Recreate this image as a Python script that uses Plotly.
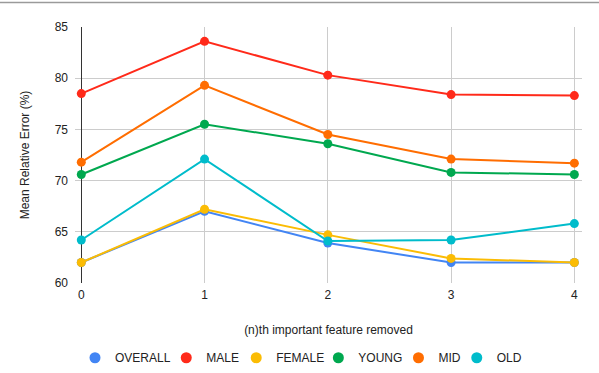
import plotly.graph_objects as go

# n-th important feature removed
features_removed = [0, 1, 2, 3, 4]

# Mean relative error (%) per group
overall = [62.0, 67.0, 63.9, 62.0, 62.0]
male = [78.5, 83.6, 80.3, 78.4, 78.3]
female = [62.0, 67.2, 64.7, 62.4, 62.0]
young = [70.6, 75.5, 73.6, 70.8, 70.6]
mid = [71.8, 79.3, 74.5, 72.1, 71.7]
old = [64.2, 72.1, 64.1, 64.2, 65.8]

group_names = ["OVERALL", "MALE", "FEMALE", "YOUNG", "MID", "OLD"]
group_values = [overall, male, female, young, mid, old]
colors = ["#4285F4", "#FF2A1A", "#FBBC04", "#00A84F", "#FF6D01", "#00BCCB"]

# left edge of each legend entry (paper fraction), so entries sit like the original
legend_x = [0.000, 0.180, 0.318, 0.480, 0.638, 0.753]

fig = go.Figure()

for name, vals, col in zip(group_names, group_values, colors):
    fig.add_trace(go.Scatter(
        x=features_removed, y=vals, name=name, mode="lines+markers",
        line=dict(color=col, width=2),
        marker=dict(color=col, size=9),
        showlegend=False,
    ))

# legend entries as plain dots, one small legend each
legend_layouts = {}
for i, (name, col) in enumerate(zip(group_names, colors)):
    key = "legend" if i == 0 else f"legend{i + 1}"
    fig.add_trace(go.Scatter(
        x=[None], y=[None], name=name, mode="markers",
        marker=dict(color=col, size=11), legend=key,
    ))
    legend_layouts[key] = dict(
        x=legend_x[i], xanchor="left", y=-0.292, yanchor="middle",
        font=dict(size=12, color="#222222"),
        itemwidth=30, bgcolor="rgba(0,0,0,0)",
    )

fig.update_layout(
    width=599, height=373,
    margin=dict(l=75, r=17, t=27, b=90, autoexpand=False),
    paper_bgcolor="white",
    plot_bgcolor="white",
    font=dict(family="Liberation Sans, Arial, sans-serif", size=12, color="#222222"),
    **legend_layouts,
    # light gray strip at the very top of the screenshot
    shapes=[dict(type="line", xref="paper", yref="paper",
                 x0=-0.148, x1=1.034, y0=1.096, y1=1.096,
                 line=dict(color="#9a9a9a", width=1.5))],
)

fig.update_xaxes(
    range=[-0.051, 4.062],
    tickvals=features_removed,
    showgrid=True, gridcolor="#cccccc", gridwidth=1,
    zeroline=True, zerolinecolor="#333333", zerolinewidth=1,
    showline=False, ticks="", automargin=False,
    ticklabelstandoff=3,
    title=dict(text="(n)th important feature removed", standoff=24,
               font=dict(size=12)),
)
fig.update_yaxes(
    range=[60, 85],
    tickvals=[60, 65, 70, 75, 80, 85],
    showgrid=True, gridcolor="#cccccc", gridwidth=1,
    zeroline=False, showline=False, ticks="", automargin=False,
    ticklabelstandoff=6,
    title=dict(text="Mean Relative Error (%)", standoff=22,
               font=dict(size=12)),
)

# drop the default page margin so the figure sits at the window's corner
fig.write_html("out.html", config={"displayModeBar": False},
               post_script="document.body.style.margin='0';")
